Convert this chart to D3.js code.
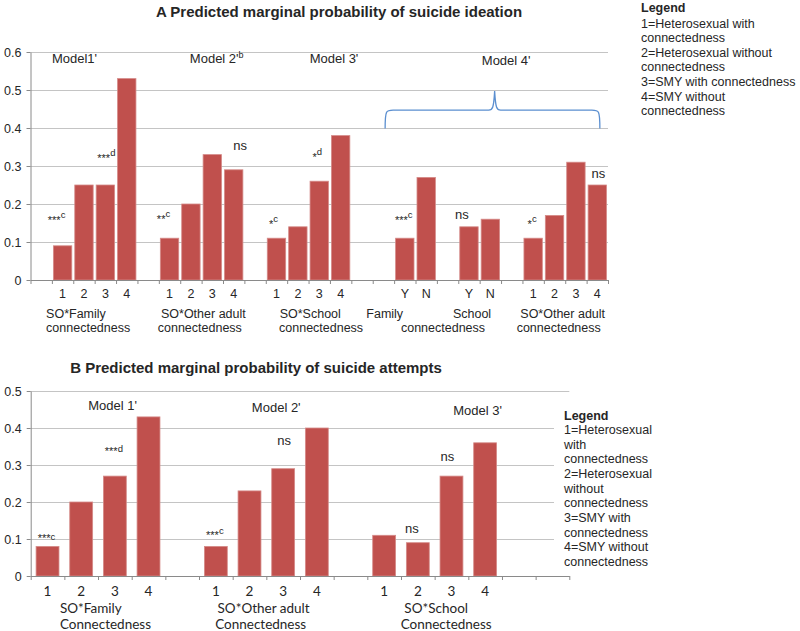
<!DOCTYPE html>
<html><head><meta charset="utf-8">
<script src="https://cdn.jsdelivr.net/npm/d3@7"></script>
<style>
body{margin:0;background:#fff;}
text{font-family:"Liberation Sans",Arial,sans-serif;fill:#262626;}
</style></head>
<body><svg id="c" width="800" height="631"></svg>
<script>
// ---------- DATA ----------
const ideationTitle = "A Predicted marginal probability of suicide ideation";
const ideationLabels = ["","1","2","3","4","","1","2","3","4","","1","2","3","4","","","Y","N","","Y","N","","1","2","3","4"];
const ideationValues = [null,0.09,0.25,0.25,0.53,null,0.11,0.20,0.33,0.29,null,0.11,0.14,0.26,0.38,null,null,0.11,0.27,null,0.14,0.16,null,0.11,0.17,0.31,0.25];
const ideationTicks = [0,0.1,0.2,0.3,0.4,0.5,0.6];
const ideationModels = ["Model1'","Model 2'","Model 3'","Model 4'"];
const ideationModelSup = ["","b","",""];
const ideationGroupLine1 = ["SO*Family","SO*Other adult","SO*School","Family","School","SO*Other adult"];
const ideationGroupLine2 = ["connectedness","connectedness","connectedness","connectedness","","connectedness"];
const ideationSigText = ["***","***","**","ns","*","*","***","ns","*","ns"];
const ideationSigSup  = ["c","d","c","","c","d","c","","c",""];
const ideationSigCat  = [1,3,6,9,11,13,17,20,23,26];
const ideationSigLevel= [0.147,0.311,0.150,0.343,0.137,0.313,0.147,0.161,0.137,0.268];

const attemptTitle = "B Predicted marginal probability of suicide attempts";
const attemptLabels = ["1","2","3","4","","1","2","3","4","","1","2","3","4","",""];
const attemptValues = [0.08,0.20,0.27,0.43,null,0.08,0.23,0.29,0.40,null,0.11,0.09,0.27,0.36,null,null];
const attemptTicks = [0,0.1,0.2,0.3,0.4,0.5];
const attemptModels = ["Model 1'","Model 2'","Model 3'"];
const attemptGroupLine1 = ["SO*Family","SO*Other adult","SO*School"];
const attemptGroupLine2 = ["Connectedness","Connectedness","Connectedness"];
const attemptSigText = ["***","ns","***","***","ns","ns"];
const attemptSigSup  = ["d","","c","c","",""];
const attemptSigCat  = [2,7,0,5,11,12];
const attemptSigLevel= [0.327,0.355,0.092,0.099,0.116,0.312];

const legendTitle = "Legend";
const legendTopLines = ["1=Heterosexual with","connectedness","2=Heterosexual without","connectedness","3=SMY with connectedness","4=SMY without","connectedness"];
const legendBottomLines = ["1=Heterosexual","with","connectedness","2=Heterosexual","without","connectedness","3=SMY with","connectedness","4=SMY without","connectedness"];

// ---------- DRAW ----------
const svg = d3.select("#c");
const BAR = "#C0504D", GRID = "#C4C4C4", AXIS = "#8A8A8A";

function panel(o){
  const g = svg.append("g");
  const n = o.labels.length;
  const x = d3.scaleBand().domain(d3.range(n)).range([o.x0,o.x1]).paddingInner(o.pad).paddingOuter(o.pad/2);
  const xl = d3.scaleLinear().domain([0,n]).range([o.x0,o.x1]);
  const y = d3.scaleLinear().domain([0,o.ymax]).range([o.y0,o.ytop]);
  // gridlines
  g.append("g").selectAll("line").data(o.ticks.filter(d=>d>0)).join("line")
    .attr("x1",o.x0).attr("x2",d=> (o.gridEnd ? o.gridEnd(d) : o.x1))
    .attr("y1",d=>Math.round(y(d))+0.5).attr("y2",d=>Math.round(y(d))+0.5)
    .attr("stroke",GRID).attr("stroke-width",1.2);
  // bars
  g.append("g").selectAll("rect").data(o.values.map((v,i)=>({v,i})).filter(d=>d.v!=null)).join("rect")
    .attr("x",d=>x(d.i)).attr("width",x.bandwidth())
    .attr("y",d=>y(d.v)).attr("height",d=>y(0)-y(d.v))
    .attr("fill",BAR).attr("stroke","#D58B89").attr("stroke-width",0.8);
  // y axis
  const ya = g.append("g").attr("transform",`translate(${o.x0},0)`)
    .call(d3.axisLeft(y).tickValues(o.ticks).tickSize(4).tickSizeOuter(0).tickPadding(5)
      .tickFormat(d=>d===0?"0":d3.format(".1f")(d)));
  ya.select(".domain").attr("stroke",AXIS);
  ya.selectAll(".tick line").attr("stroke",AXIS);
  ya.selectAll("text").style("font-size","12.5px").style("font-family","'Liberation Sans',Arial").attr("fill","#262626");
  // x axis boundary ticks
  const xa = g.append("g").attr("transform",`translate(0,${o.y0})`)
    .call(d3.axisBottom(xl).tickValues(d3.range(n+1)).tickSize(4).tickSizeOuter(0).tickFormat(""));
  xa.select(".domain").attr("stroke",AXIS);
  xa.selectAll(".tick line").attr("stroke",AXIS);
  // category labels
  const xb = g.append("g").attr("transform",`translate(0,${o.y0})`)
    .call(d3.axisBottom(x).tickSize(0).tickPadding(o.labPad).tickFormat(i=>o.labels[i]));
  xb.select(".domain").remove();
  xb.selectAll("text").style("font-size",o.labSize).style("font-family",o.labFont).attr("fill","#262626");
  return {g,x,xl,y};
}

function sig(p, texts, sups, cats, levels, dxs, supDy){
  texts.forEach((t,k)=>{
    const cx = p.x(cats[k]) + p.x.bandwidth()/2 + dxs[k];
    const ty = p.y(levels[k]);
    const txt = p.g.append("text").attr("x",cx).attr("y",ty).attr("text-anchor","middle");
    if(t==="ns"){ txt.style("font-size","13px").text(t); }
    else{
      txt.append("tspan").style("font-size","11px").text(t);
      if(sups[k]) txt.append("tspan").style("font-size","9.5px").attr("dy",supDy[k]).text(sups[k]);
    }
  });
}

// ===== Panel A =====
const A = panel({labels:ideationLabels, values:ideationValues, ticks:ideationTicks, ymax:0.6,
  x0:30.5, x1:608, y0:280, ytop:52, pad:0.14, labPad:9, labSize:"12.5px", labFont:"'Liberation Sans',Arial"});
svg.append("text").attr("x",339).attr("y",17).attr("text-anchor","middle")
  .style("font-size","15px").style("font-weight","bold").attr("fill","#1a1a1a").text(ideationTitle);
// model labels
const aModelPos = [1.0,7.45,13.05,21.1];
ideationModels.forEach((m,k)=>{
  const t = A.g.append("text").attr("x",A.xl(aModelPos[k])).attr("y",A.y(0.57)-0.5).style("font-size","13px");
  t.append("tspan").text(m);
  if(ideationModelSup[k]) t.append("tspan").attr("dy",-5).style("font-size","9px").text(ideationModelSup[k]);
});
A.g.selectAll("text").filter(function(){return this.textContent==="Model 4'";}).attr("y",A.y(0.57)+1.5);
// group labels
const aG1 = [0.73,6.1,11.65,15.7,19.75,22.9];
const aG2 = [0.73,5.95,11.62,17.32,0,22.73];
ideationGroupLine1.forEach((s,k)=>{
  A.g.append("text").attr("x",A.xl(aG1[k])).attr("y",318).style("font-size","12.5px").text(s);
  if(ideationGroupLine2[k]) A.g.append("text").attr("x",A.xl(aG2[k])).attr("y",331.5).style("font-size","12.5px").text(ideationGroupLine2[k]);
});
sig(A, ideationSigText, ideationSigSup, ideationSigCat, ideationSigLevel,
    [-6,1,-6,6.5,-3,-2,-1,-7,-1,1], [-6,-6,-6,0,-6,-6,-6,0,-6,0]);
// brace
{
  const L = A.xl(16.58), R = A.xl(26.62), M = A.xl(21.7);
  const yb = A.y(0.4)+0.5, yh = A.y(0.447), yp = A.y(0.497);
  const p = `M${L},${yb} C${L},${yh} ${L+1},${yh} ${L+8},${yh} L${M-6},${yh} C${M-2},${yh} ${M-1},${yh-2} ${M},${yp} C${M+1},${yh-2} ${M+2},${yh} ${M+6},${yh} L${R-8},${yh} C${R-1},${yh} ${R},${yh} ${R},${yb}`;
  A.g.append("path").attr("d",p).attr("fill","none").attr("stroke","#5B8FD0").attr("stroke-width",1.3);
}
// legend A
const lgA = svg.append("g");
lgA.append("text").attr("x",641).attr("y",11.5).style("font-size","12.5px").style("font-weight","bold").text(legendTitle);
legendTopLines.forEach((s,k)=>lgA.append("text").attr("x",641).attr("y",27.5+k*14.6).style("font-size","12.5px").text(s));

// ===== Panel B =====
const B = panel({labels:attemptLabels, values:attemptValues, ticks:attemptTicks, ymax:0.5,
  x0:30.7, x1:569.3, y0:576, ytop:391, pad:0.32, labPad:10, labSize:"13.5px", labFont:"Lato,'Open Sans',sans-serif",
  gridEnd:d=> d>=0.5 ? 569.3 : 554});
svg.append("text").attr("x",256).attr("y",373).attr("text-anchor","middle")
  .style("font-size","15px").style("font-weight","bold").attr("fill","#1a1a1a").text(attemptTitle);
const bModelPos = [1.71,6.57,12.55];
const bModelLev = [0.448,0.442,0.436];
attemptModels.forEach((m,k)=>{
  B.g.append("text").attr("x",B.xl(bModelPos[k])).attr("y",B.y(bModelLev[k])).style("font-size","13px").text(m);
});
const bG1 = [0.87,5.55,11.1];
const bG2 = [0.87,5.48,10.99];
attemptGroupLine1.forEach((s,k)=>{
  B.g.append("text").attr("x",B.xl(bG1[k])).attr("y",612.5).style("font-size","13.5px").style("font-family","Lato,'Open Sans',sans-serif").text(s);
  B.g.append("text").attr("x",B.xl(bG2[k])).attr("y",629).style("font-size","13.5px").style("font-family","Lato,'Open Sans',sans-serif").text(attemptGroupLine2[k]);
});
sig(B, attemptSigText, attemptSigSup, attemptSigCat, attemptSigLevel,
    [-1,1,-1,-1,-6,-4], [-3,0,-2,-5,0,0]);
// legend B
const lgB = svg.append("g");
lgB.append("rect").attr("x",555).attr("y",402).attr("width",110).attr("height",168).attr("fill","#fff");
lgB.append("text").attr("x",564).attr("y",419.5).style("font-size","12.5px").style("font-weight","bold").text(legendTitle);
legendBottomLines.forEach((s,k)=>lgB.append("text").attr("x",564).attr("y",434+k*14.65).style("font-size","12.5px").text(s));
</script></body></html>
